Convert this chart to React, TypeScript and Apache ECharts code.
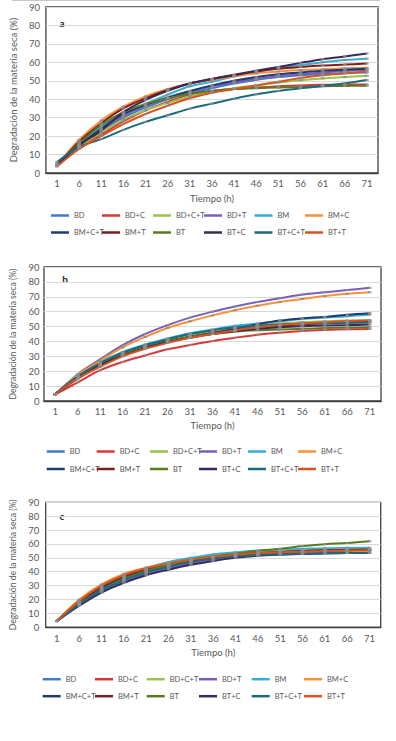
import React, { useEffect, useRef } from "react";
import * as echarts from "echarts";

const hours = ["1", "6", "11", "16", "21", "26", "31", "36", "41", "46", "51", "56", "61", "66", "71"];

const seriesNames = ["BD", "BD+C", "BD+C+T", "BD+T", "BM", "BM+C", "BM+C+T", "BM+T", "BT", "BT+C", "BT+C+T", "BT+T"];

const seriesColors = [
  "#3E7CC6", "#D9383A", "#9BC24A", "#7B5EB8", "#36B0D0", "#F7923A",
  "#1F3B73", "#7F1D1D", "#5A7A1F", "#3A2A5C", "#1B6A80", "#D9531E",
];

const yTicks = [0, 90, 10];

// Panel a values (rows follow seriesNames)
const panelAValues: number[][] = [
  [4, 14.5, 22.5, 30, 35.5, 40, 43.5, 46, 48.5, 50.5, 52, 53, 53.7, 54.2, 54.5],
  [4, 14, 21, 28, 34, 38.5, 42.5, 44.5, 45.5, 46.3, 47, 47.5, 47.8, 48, 48],
  [4.5, 14, 22, 29, 34, 38, 41.5, 44, 46, 47.5, 49, 50.3, 51.3, 52, 52.7],
  [4.5, 15, 23.5, 31, 36.5, 40.5, 44, 47, 49, 51, 52.5, 53.5, 54.5, 55.3, 55.8],
  [5, 16, 25, 32, 37.5, 42.5, 47, 49.5, 52.5, 55, 57, 58.5, 60, 61.3, 62],
  [4, 18, 28.5, 36, 41.5, 45.5, 48.5, 50.5, 52.5, 54, 55, 55.8, 56.3, 56.8, 57],
  [4, 15, 24, 32, 37, 41, 44.5, 47.5, 50, 52, 53.5, 54.5, 55.5, 56, 56.5],
  [4, 17, 27, 35, 40.5, 45, 48.5, 51, 53, 55, 56.5, 57.5, 58.3, 58.8, 59.4],
  [4.5, 16, 26, 33, 37.5, 40.5, 43, 44.5, 45.5, 46, 46.3, 46.6, 47, 47.2, 47.3],
  [4, 15, 23, 33, 39.5, 44.5, 48.5, 51, 53.3, 55.5, 57.5, 59.7, 61.7, 63.2, 64.8],
  [6, 14, 18.4, 23.4, 27.7, 31.3, 34.9, 37.6, 40.3, 42.7, 44.5, 45.9, 47.2, 48.6, 50.4],
  [3.5, 13, 20, 26.5, 32, 36.5, 40.5, 43.5, 45.5, 47.5, 49.5, 51.5, 53, 54, 55],
];

// Panel b values
const panelBValues: number[][] = [
  [4.5, 16, 25, 32, 37, 41, 44, 46.5, 48.5, 50, 51.5, 52.3, 53, 53.3, 53.5],
  [4.5, 12.5, 20.7, 26.3, 30.6, 34.7, 37.6, 40.3, 42.5, 44.5, 45.9, 47, 47.7, 48.2, 48.4],
  [4.5, 16, 25, 32, 37, 41, 44.5, 47, 49.5, 51, 52, 53, 53.5, 54, 54],
  [4.5, 18, 28, 37.5, 45, 51, 56, 60, 63.5, 66.5, 69, 71.5, 73, 74.5, 76],
  [4.5, 17, 26, 33, 38, 42, 45.5, 48, 50.5, 52, 53.5, 55, 56, 57, 58],
  [4.5, 17.5, 27, 36, 43, 49, 53.5, 57.5, 61, 64, 66.5, 68.5, 70.5, 72, 73],
  [4.5, 16, 25, 31.5, 36, 40, 43, 45.5, 48.5, 51.5, 54, 55.5, 56.5, 58, 59],
  [4.5, 15.5, 24, 31, 36, 40, 43, 45.5, 47.5, 49.5, 50.5, 51.5, 52.3, 52.8, 53],
  [4.5, 16, 25, 31.5, 36, 40, 43, 45, 46.5, 47.5, 48, 48.5, 49, 49.3, 49.5],
  [4.5, 15, 24, 30.5, 35.5, 39.5, 42.5, 45, 47, 48.5, 49.5, 50.2, 50.7, 51, 51.3],
  [4.5, 16.5, 25.5, 32.5, 37.5, 41.5, 45, 47.5, 49.5, 50.5, 51.5, 52, 52.3, 52.5, 52.7],
  [4.5, 15, 23, 30, 35, 39, 42.5, 45, 47.5, 49.5, 51, 52, 53, 53.7, 54.3],
];

// Panel c values
const panelCValues: number[][] = [
  [4.5, 17, 27.5, 35, 40.5, 44.5, 47.5, 50, 52, 53.3, 54.2, 54.8, 55.2, 55.5, 55.7],
  [4.5, 18, 29, 36.5, 42, 45.5, 48.5, 50.5, 52.3, 53.5, 54.5, 55.2, 55.7, 56, 56.2],
  [4.5, 17, 27, 34.5, 40, 44, 47.5, 50, 52, 53.5, 54.5, 55.3, 55.8, 56.2, 56.5],
  [4.5, 16, 26, 33, 38.5, 42.5, 46, 49, 51, 52.5, 53.5, 54, 54.5, 54.8, 55],
  [4.5, 18, 29, 37, 42.5, 47, 50, 52.5, 54, 55.3, 56, 56.5, 57, 57.2, 57.3],
  [4.5, 20, 31, 38.5, 43, 46, 48.5, 50.5, 52, 53, 53.8, 54.3, 54.7, 55, 55],
  [4.5, 17.5, 28, 36, 41, 45, 48.3, 50.8, 52.5, 53.5, 54.3, 55, 55.3, 55.5, 55.7],
  [4.5, 18.5, 29.5, 37, 42, 45.5, 48.3, 50.3, 51.8, 53, 54, 54.8, 55.3, 55.7, 56],
  [4.5, 17, 27, 35, 40.5, 45, 48.5, 51, 53, 55, 56.5, 58.5, 59.8, 60.7, 62],
  [4.5, 15.5, 25, 32, 37.5, 41.5, 45, 47.8, 50, 51.5, 52.3, 52.8, 53.2, 53.5, 53.5],
  [4.5, 16.5, 26.5, 34, 39.5, 43.5, 47, 49.5, 51, 52, 52.5, 53, 53.3, 53.5, 53.5],
  [4.5, 19, 30, 37.5, 42.5, 46, 48.8, 50.8, 52.3, 53.3, 54, 54.5, 55, 55.3, 55.5],
];

const panelLabels = ["a", "b", "c"];
const axisTitleX = "Tiempo (h)";
const axisTitleY = "Degradación de la materia seca (%)";

const FONT = "Lato, 'Open Sans', sans-serif";
const TEXT_GREY = "#595959";

type PanelLayout = {
  grid: { left: number; top: number; width: number; height: number };
  xLabelMargin: number;
  xNameGap: number;
  yLabelMargin: number;
  yNameGap: number;
  yNameSize: number;
  label: [number, number];
  legendRows: [number, number];
  legendCols: number[];
};

const layouts: PanelLayout[] = [
  {
    grid: { left: 41, top: 7, width: 337, height: 166 },
    xLabelMargin: 5.5, xNameGap: 20, yLabelMargin: 6, yNameGap: 17.5, yNameSize: 9.5,
    label: [62, 23], legendRows: [217, 234], legendCols: [51, 102, 153, 204, 254.5, 305],
  },
  {
    grid: { left: 44, top: 267, width: 337, height: 134 },
    xLabelMargin: 5, xNameGap: 19.5, yLabelMargin: 4.5, yNameGap: 19, yNameSize: 8.6,
    label: [65, 279], legendRows: [453, 470.5], legendCols: [46.7, 96.7, 150, 199, 248, 298],
  },
  {
    grid: { left: 45.7, top: 502.3, width: 335, height: 125 },
    xLabelMargin: 6, xNameGap: 20, yLabelMargin: 6.5, yNameGap: 20, yNameSize: 8.6,
    label: [62, 515.7], legendRows: [680.7, 697.7], legendCols: [42.7, 95, 146.7, 199, 251.7, 304],
  },
];

const panelData = [panelAValues, panelBValues, panelCValues];

export default function App() {
  const ref = useRef<HTMLDivElement>(null);

  useEffect(() => {
    if (!ref.current) return;
    const chart = echarts.init(ref.current, undefined, { renderer: "svg" });

    const grids = layouts.map((l) => ({
      ...l.grid,
      show: true,
      backgroundColor: "#ffffff",
      borderColor: "#3f3f3f",
      borderWidth: 1.3,
      containLabel: false,
    }));

    const xAxes = layouts.map((l, p) => ({
      type: "category",
      gridIndex: p,
      data: hours,
      boundaryGap: true,
      axisTick: { show: false },
      axisLine: { show: true, lineStyle: { color: "#3f3f3f", width: 1.3 } },
      axisLabel: { interval: 0, fontSize: 9.5, color: TEXT_GREY, margin: l.xLabelMargin, fontFamily: FONT },
      name: axisTitleX,
      nameLocation: "middle",
      nameGap: l.xNameGap,
      nameTextStyle: { fontSize: 9.5, color: TEXT_GREY, fontFamily: FONT },
      splitLine: { show: false },
    }));

    const yAxes = layouts.map((l, p) => ({
      type: "value",
      gridIndex: p,
      min: yTicks[0],
      max: yTicks[1],
      interval: yTicks[2],
      axisTick: { show: false },
      axisLine: { show: false },
      axisLabel: { fontSize: 9.5, color: TEXT_GREY, margin: l.yLabelMargin, fontFamily: FONT },
      splitLine: { show: true, lineStyle: { color: "#d9d9d9", width: 1 } },
      name: axisTitleY,
      nameLocation: "middle",
      nameGap: l.yNameGap,
      nameTextStyle: { fontSize: l.yNameSize, color: TEXT_GREY, fontFamily: FONT },
    }));

    const series: any[] = [];
    panelData.forEach((values, p) => {
      values.forEach((row, i) => {
        series.push({
          type: "line",
          name: seriesNames[i],
          xAxisIndex: p,
          yAxisIndex: p,
          data: row,
          smooth: 0.35,
          symbol: "rect",
          symbolSize: [3.5, 2],
          showSymbol: true,
          lineStyle: { color: seriesColors[i], width: 2 },
          itemStyle: { color: "#8c8c8c", opacity: 0.8 },
          emphasis: { disabled: true },
        });
      });
    });

    const legends: any[] = [];
    layouts.forEach((l) => {
      seriesNames.forEach((name, i) => {
        legends.push({
          data: [{ name, itemStyle: { color: seriesColors[i], opacity: 1 } }],
          left: l.legendCols[i % 6],
          top: l.legendRows[Math.floor(i / 6)] - 5.5,
          icon: "rect",
          itemWidth: 18,
          itemHeight: 2.5,
          padding: 0,
          itemGap: 0,
          selectedMode: false,
          textStyle: { fontSize: 7.5, color: TEXT_GREY, fontFamily: FONT },
        });
      });
    });

    const graphics: any[] = [
      {
        type: "line",
        shape: { x1: 12, y1: 0.5, x2: 380, y2: 0.5 },
        style: { stroke: "#c8c8c8", lineWidth: 1 },
      },
      ...layouts.map((l, p) => ({
        type: "text",
        x: l.label[0],
        y: l.label[1],
        style: {
          text: panelLabels[p],
          fontSize: 10,
          fontWeight: "bold",
          fill: "#262626",
          fontFamily: FONT,
          textAlign: "center",
          textVerticalAlign: "middle",
        },
      })),
    ];

    chart.setOption({
      animation: false,
      backgroundColor: "#ffffff",
      grid: grids,
      xAxis: xAxes,
      yAxis: yAxes,
      legend: legends,
      series,
      graphic: graphics,
    });

    return () => chart.dispose();
  }, []);

  return (
    <div
      ref={ref}
      style={{ position: "absolute", left: 0, top: 0, width: 396, height: 741 }}
    />
  );
}
